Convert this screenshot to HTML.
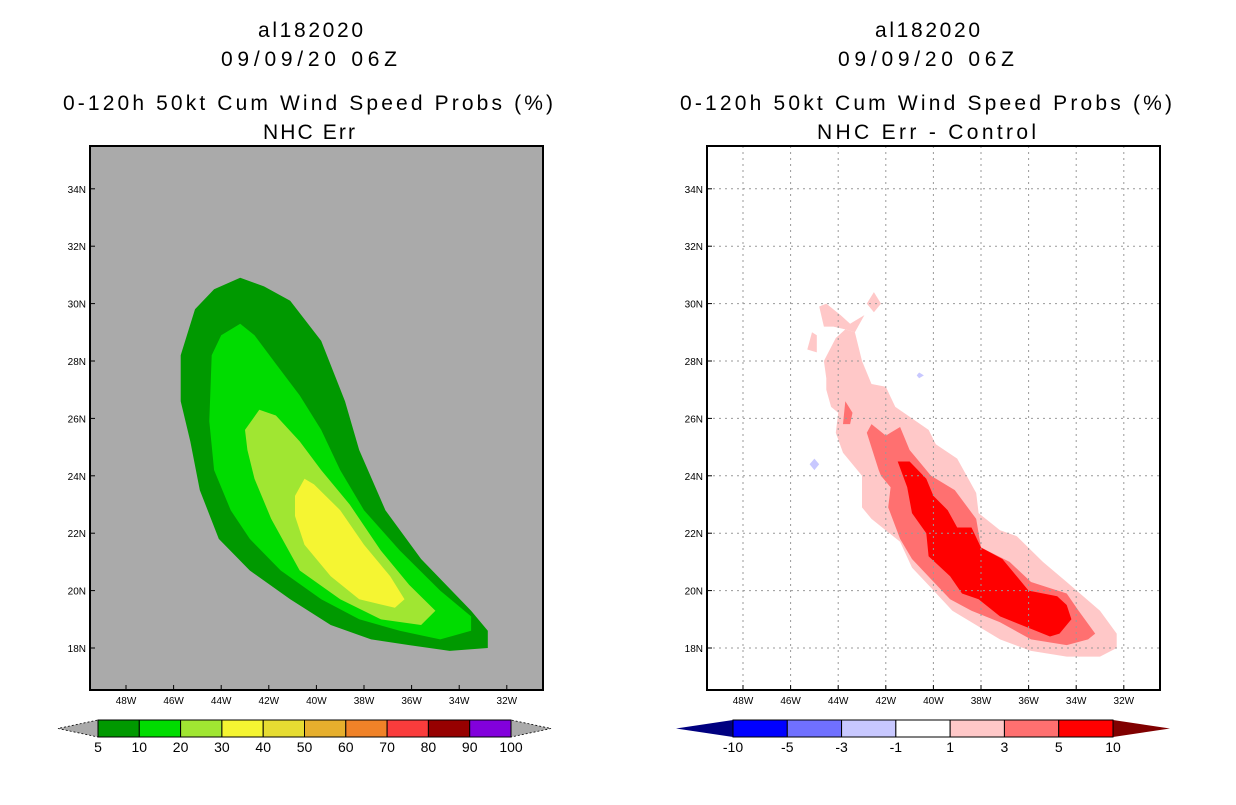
<!DOCTYPE html>
<html><head><meta charset="utf-8"><style>
body{margin:0;background:#fff;width:1236px;height:800px;overflow:hidden}
svg text{font-family:"Liberation Sans",sans-serif}
</style></head><body>
<svg id="s" width="1236" height="800" xmlns="http://www.w3.org/2000/svg">
<g font-size="21" fill="#000" lengthAdjust="spacing">
<text x="258" y="37" textLength="105">al182020</text>
<text x="221" y="66" textLength="176">09/09/20 06Z</text>
<text x="63" y="110" textLength="490">0-120h 50kt Cum Wind Speed Probs (%)</text>
<text x="263" y="139" textLength="92">NHC Err</text>
<text x="875" y="37" textLength="105">al182020</text>
<text x="838" y="66" textLength="176">09/09/20 06Z</text>
<text x="680" y="110" textLength="492">0-120h 50kt Cum Wind Speed Probs (%)</text>
<text x="817" y="139" textLength="219">NHC Err - Control</text>
</g>
</svg>
<script>
const lonTicks=[48,46,44,42,40,38,36,34,32];
const latTicks=[34,32,30,28,26,24,22,20,18];
// left panel contour polygons [lonW, latN]
const L5=[[45.7,28.2],[45.1,29.8],[44.3,30.5],[43.2,30.9],[42.2,30.6],[41.1,30.1],[39.8,28.7],[38.8,26.6],[38.2,24.9],[37.1,22.8],[35.6,21.1],[33.5,19.3],[32.8,18.6],[32.8,18.0],[34.4,17.9],[36.1,18.1],[37.7,18.3],[39.4,18.8],[41.1,19.7],[42.8,20.7],[44.1,21.8],[44.9,23.5],[45.3,25.2],[45.7,26.6]];
const L10=[[44.4,28.2],[44.0,28.9],[43.2,29.3],[42.6,28.9],[41.7,27.9],[40.7,26.8],[39.8,25.6],[39.0,24.2],[38.0,22.8],[36.5,21.4],[34.8,20.0],[33.5,19.1],[33.5,18.6],[34.8,18.3],[36.5,18.6],[38.2,19.0],[39.8,19.7],[41.5,20.7],[42.8,21.8],[43.6,22.8],[44.3,24.2],[44.5,25.9]];
const L20=[[43.0,25.6],[42.4,26.3],[41.7,26.1],[40.7,25.2],[39.8,24.2],[38.6,23.0],[37.3,21.4],[36.1,20.2],[35.0,19.3],[35.6,18.8],[37.3,19.0],[39.0,19.7],[40.7,20.7],[41.9,22.5],[42.6,23.9],[42.9,24.9]];
const L30=[[40.9,23.3],[40.5,23.9],[40.1,23.7],[39.0,22.8],[38.0,21.6],[36.9,20.5],[36.3,19.7],[36.7,19.4],[38.2,19.7],[39.4,20.5],[40.5,21.6],[40.9,22.6]];
// right panel difference polygons
const D1=[[44.5,27.4],[44.6,28.0],[44.1,28.8],[43.7,29.1],[43.3,29.0],[43.0,28.0],[42.6,27.2],[42.0,27.1],[41.6,26.4],[40.2,25.6],[39.9,25.1],[39.0,24.6],[38.2,23.4],[38.1,22.7],[37.2,22.1],[36.5,21.9],[35.4,21.0],[34.4,20.3],[33.0,19.3],[32.3,18.5],[32.3,18.0],[33.0,17.7],[34.4,17.7],[35.9,17.9],[37.2,18.3],[38.4,18.9],[39.2,19.3],[40.1,20.1],[40.9,20.8],[41.4,21.7],[42.6,22.5],[43.0,22.9],[43.0,23.6],[43.0,24.0],[43.8,24.8],[44.1,25.5],[44.0,26.2],[44.3,26.4],[44.5,27.0]];
const D1b=[[44.8,29.9],[44.5,30.0],[43.9,29.6],[43.5,29.3],[42.9,29.6],[43.3,29.0],[43.7,29.1],[44.2,29.2],[44.6,29.2]];
const D1c=[[42.5,30.4],[42.2,30.0],[42.5,29.7],[42.8,30.0]];
const D1d=[[45.1,29.0],[44.9,28.9],[44.9,28.3],[45.3,28.4]];
const D3=[[42.8,25.5],[42.6,25.8],[42.0,25.4],[41.4,25.7],[41.0,24.9],[40.1,24.0],[39.1,23.5],[38.2,22.5],[38.0,21.5],[36.8,21.0],[35.9,20.3],[34.4,19.9],[33.9,19.3],[33.2,18.5],[33.5,18.3],[34.4,18.1],[35.9,18.3],[37.2,18.9],[38.4,19.3],[39.3,19.7],[40.1,20.4],[40.9,21.1],[41.4,21.8],[41.9,22.9],[41.8,23.6],[42.2,24.0],[42.3,24.2]];
const D3b=[[43.7,26.6],[43.4,26.2],[43.5,25.8],[43.8,25.8]];
const D5=[[41.5,24.5],[41.0,24.5],[40.3,23.9],[40.0,23.3],[39.4,22.8],[39.0,22.2],[38.4,22.2],[38.0,21.5],[37.1,21.1],[36.0,20.0],[34.8,19.8],[34.4,19.5],[34.2,19.0],[34.7,18.5],[35.1,18.4],[36.0,18.7],[37.2,19.1],[38.1,19.7],[38.8,19.9],[39.3,20.5],[40.2,21.2],[40.3,22.0],[40.9,22.7],[41.1,23.6]];
const Dneg1=[[45.0,24.6],[44.8,24.4],[45.0,24.2],[45.2,24.4]];
const Dneg1b=[[40.4,27.5],[40.6,27.6],[40.7,27.5],[40.6,27.4]];
const leftLevels=['5','10','20','30','40','50','60','70','80','90','100'];
const leftColors=['#009900','#00dc00','#a0e632','#f5f532','#e6dc32','#e6af2d','#f08228','#fa3c3c','#960000','#8200dc'];
const rightLevels=['-10','-5','-3','-1','1','3','5','10'];
const rightColors=['#0000ff','#7070ff','#c8c8ff','#ffffff','#ffc8c8','#ff7070','#ff0000'];

const NS='http://www.w3.org/2000/svg';
const svg=document.getElementById('s');
function mk(tag,attrs,parent){const e=document.createElementNS(NS,tag);for(const k in attrs)e.setAttribute(k,attrs[k]);(parent||svg).appendChild(e);return e;}
const Y0=146,Y1=690,W=453;
function xs(x0){return lon=>x0+36+(48-lon)*23.8;}
function ys(lat){return 648-(lat-18)*28.7;}
function poly(pts,x,fill,name,g){const p=mk('polygon',{points:pts.map(q=>x(q[0]).toFixed(1)+','+ys(q[1]).toFixed(1)).join(' '),fill:fill},g);

}

function panel(x0,bg,pfx){
  const g=mk('g',{});
  
  
  const cp=mk('clipPath',{id:pfx+'clip'});mk('rect',{x:x0,y:Y0,width:W,height:Y1-Y0},cp);
  mk('rect',{x:x0,y:Y0,width:W,height:Y1-Y0,fill:bg},g);
  const c=mk('g',{'clip-path':'url(#'+pfx+'clip)'},g);
  return {g,c,x:xs(x0)};
}
function axes(P,x0,pfx){
  const x=P.x;
  lonTicks.forEach(l=>{const xp=x(l);
    mk('line',{x1:xp,x2:xp,y1:Y1,y2:Y1-5,stroke:'#000'},P.g);
    const t=mk('text',{x:xp,y:Y1+14,'font-size':10,'text-anchor':'middle'},P.g);t.textContent=l+'W';
    
    });
  latTicks.forEach(l=>{const yp=ys(l);
    mk('line',{x1:x0,x2:x0+5,y1:yp,y2:yp,stroke:'#000'},P.g);
    const t=mk('text',{x:x0-4,y:yp+4,'font-size':10,'text-anchor':'end'},P.g);t.textContent=l+'N';
    
    });
  mk('rect',{x:x0,y:Y0,width:W,height:Y1-Y0,fill:'none',stroke:'#000','stroke-width':2},P.g);
}
function grid(P,x0){
  lonTicks.forEach(l=>mk('line',{x1:P.x(l),x2:P.x(l),y1:Y0,y2:Y1,stroke:'#999','stroke-dasharray':'2,4'},P.c));
  latTicks.forEach(l=>mk('line',{x1:x0,x2:x0+W,y1:ys(l),y2:ys(l),stroke:'#999','stroke-dasharray':'2,4'},P.c));
}
const A=panel(90,'#aaaaaa','left');
poly(L5,A.x,leftColors[0],'contour-5pct',A.c);
poly(L10,A.x,leftColors[1],'contour-10pct',A.c);
poly(L20,A.x,leftColors[2],'contour-20pct',A.c);
poly(L30,A.x,leftColors[3],'contour-30pct',A.c);
axes(A,90,'left');
const B=panel(707,'#ffffff','right');
[D1,D1b,D1c,D1d].forEach(p=>poly(p,B.x,rightColors[4],'diff-1-to-3',B.c));
[D3,D3b].forEach(p=>poly(p,B.x,rightColors[5],'diff-3-to-5',B.c));
poly(D5,B.x,rightColors[6],'diff-5-to-10',B.c);
[Dneg1,Dneg1b].forEach(p=>poly(p,B.x,rightColors[2],'diff-neg1-to-neg3',B.c));
grid(B,707);
axes(B,707,'right');

function colorbar(x0,x1,colors,labels,lc,rc,pfx,yT,yB,tri){
  const g=mk('g',{});
  
  
  const n=colors.length,w=(x1-x0)/n,ym=(yT+yB)/2;
  mk('polygon',{points:`${x0},${yT} ${x0},${yB} ${x0-tri},${ym}`,fill:lc,stroke:pfx==='left'?'#000':'none','stroke-dasharray':'2,2','stroke-width':0.8},g);
  mk('polygon',{points:`${x1},${yT} ${x1},${yB} ${x1+tri},${ym}`,fill:rc,stroke:pfx==='left'?'#000':'none','stroke-dasharray':'2,2','stroke-width':0.8},g);
  colors.forEach((c,i)=>{const r=mk('rect',{x:x0+i*w,y:yT,width:w,height:yB-yT,fill:c,stroke:'#000','stroke-width':1},g);
    
    });
  labels.forEach((l,i)=>{const t=mk('text',{x:x0+i*w,y:yB+15,'font-size':14,'text-anchor':'middle'},g);t.textContent=l;
    
    });
}
colorbar(98,511,leftColors,leftLevels,'#aaaaaa','#aaaaaa','left',720,737,40);
colorbar(733,1113,rightColors,rightLevels,'#000080','#800000','right',720,737,57);
</script>
</body></html>
